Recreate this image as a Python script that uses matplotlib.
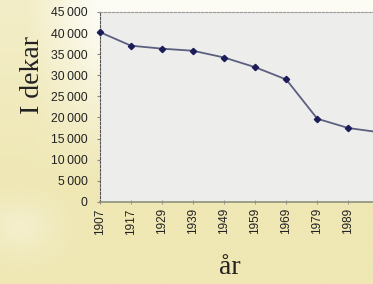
import matplotlib
matplotlib.use('Agg')
import matplotlib.pyplot as plt
import numpy as np

years = ['1907', '1917', '1929', '1939', '1949', '1959', '1969', '1979', '1989', '1999']
dekar = [40200, 37000, 36300, 35800, 34200, 31900, 29000, 19700, 17500, 16500]
yticks = [0, 5000, 10000, 15000, 20000, 25000, 30000, 35000, 40000, 45000]
ytick_labels = ['0', '5\u2009000', '10\u2009000', '15\u2009000', '20\u2009000',
                '25\u2009000', '30\u2009000', '35\u2009000', '40\u2009000', '45\u2009000']

fig = plt.figure(figsize=(3.73, 2.84), dpi=100)
fig.patch.set_facecolor('#f2edc8')

# soft background wash: white at top, yellow lower down
bg = fig.add_axes([0, 0, 1, 1], zorder=-10)
gy, gx = np.mgrid[0:1:100j, 0:1:100j]
wash = np.clip(1.1 - 1.7 * gy, 0, 1) * 0.8 * np.clip(gx * 4, 0.3, 1) \
    + 0.3 * np.exp(-((gx - 0.05) ** 2 + (gy - 0.8) ** 2) / 0.01)
bg.imshow(wash, cmap=matplotlib.colors.LinearSegmentedColormap.from_list(
    'w', ['#efe7b4', '#fdfcf4']), extent=[0, 1, 0, 1], aspect='auto', origin='upper')
bg.axis('off')

ax = fig.add_axes([0.268, 0.289, 0.77, 0.669])
ax.set_facecolor('#ededeb')
x = np.arange(len(years))
ax.plot(x, dekar, color='#5c6080', lw=1.3, marker='D', ms=3.2,
        mfc='#1c1c58', mec='#1c1c58', clip_on=False, zorder=3)

ax.set_xlim(0, 9.25)
ax.set_ylim(0, 45000)
ax.set_yticks(yticks)
ax.set_yticklabels(ytick_labels, family='Liberation Sans', fontsize=8.8, color='#222222')
ax.set_xticks(x[:9])
ax.set_xticklabels(years[:9], rotation=90, family='Liberation Sans', fontsize=8.5, color='#222222')
ax.tick_params(axis='y', length=2, color='#888888', pad=7)
ax.tick_params(axis='x', length=3, color='#999999', pad=3, direction='inout')

for s in ['top', 'left']:
    ax.spines[s].set_linestyle((0, (2, 1.5)))
    ax.spines[s].set_linewidth(0.8)
ax.spines['top'].set_color('#9a9a9a')
ax.spines['left'].set_color('#555555')
ax.spines['bottom'].set_color('#8f927a')
ax.spines['bottom'].set_linewidth(1.2)
ax.spines['right'].set_visible(False)

ax.set_ylabel('I dekar', family='Liberation Serif', fontsize=20, color='#222222')
ax.yaxis.set_label_coords(-0.19, 0.668)
ax.set_xlabel('år', family='Liberation Serif', fontsize=20, color='#222222')
ax.xaxis.set_label_coords(0.452, -0.28)

fig.savefig('out.png', dpi=100, facecolor=fig.get_facecolor())
